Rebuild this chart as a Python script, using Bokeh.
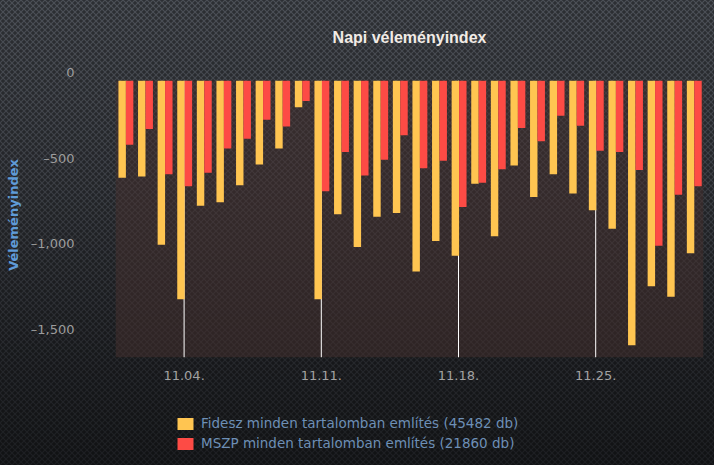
from bokeh.plotting import figure
from bokeh.layouts import column
from bokeh.models import (Range1d, LinearAxis, FixedTicker, Legend, LegendItem,
                          BoxAnnotation, ColumnDataSource)
from bokeh.transform import dodge
from bokeh.embed import file_html
from bokeh.resources import INLINE

# ---- data ----
days = list(range(1, 31))  # November 1..30
fidesz = [-566, -558, -956, -1275, -729, -708, -609, -488, -395, -155,
          -1275, -779, -969, -793, -771, -1113, -934, -1020, -601, -907,
          -494, -678, -545, -657, -756, -863, -1543, -1198, -1260, -1006]
mszp = [-374, -281, -545, -615, -537, -395, -339, -227, -267, -118,
        -644, -415, -552, -461, -318, -510, -467, -737, -595, -516,
        -275, -353, -204, -262, -409, -415, -521, -962, -665, -615]
tick_days = [4, 11, 18, 25]
tick_labels = ["11.04.", "11.11.", "11.18.", "11.25."]
y_ticks = [0, -500, -1000, -1500]
y_tick_labels = ["0", "\u2013500", "\u20131,000", "\u20131,500"]
series_names = ["Fidesz minden tartalomban említés (45482 db)",
                "MSZP minden tartalomban említés (21860 db)"]
colors = ["#ffc551", "#fd4b45"]

Y_MIN = -1614
LABEL_SHIFT = 48  # tick labels sit slightly above their ticks

src = ColumnDataSource(dict(day=days, fidesz=fidesz, mszp=mszp,
                            zero=[0] * len(days)))

p = figure(width=714, height=395, output_backend="svg", toolbar_location=None,
           x_range=Range1d(0.5, 30.5), y_range=Range1d(Y_MIN, LABEL_SHIFT),
           y_axis_location=None,
           min_border_left=115, min_border_right=11,
           min_border_top=71, min_border_bottom=38,
           title="Napi véleményindex")

p.border_fill_alpha = 0
p.background_fill_alpha = 0
p.outline_line_color = None
p.xgrid.visible = False
p.ygrid.visible = False

# title
p.title.text_font = "Liberation Sans"
p.title.text_font_size = "16px"
p.title.text_font_style = "bold"
p.title.text_color = "#f2ece6"
p.title.align = "center"
p.title.offset = -8
p.title.standoff = 53

# plot area fill (from zero down)
p.add_layout(BoxAnnotation(top=0, fill_color="#45302d", fill_alpha=0.5,
                           line_color=None, level="underlay"))

# vertical grid lines at ticks
p.segment(x0=tick_days, x1=tick_days, y0=[0] * len(tick_days),
          y1=[Y_MIN] * len(tick_days), line_color="#ffffff", line_width=1)

# bars
r1 = p.vbar(x=dodge("day", -0.16, range=p.x_range), top="zero", bottom="fidesz",
            width=0.38, source=src, fill_color=colors[0], line_color=None)
r2 = p.vbar(x=dodge("day", 0.22, range=p.x_range), top="zero", bottom="mszp",
            width=0.38, source=src, fill_color=colors[1], line_color=None)

# x axis
xa = p.xaxis[0]
xa.ticker = FixedTicker(ticks=tick_days)
xa.major_label_overrides = dict(zip(tick_days, tick_labels))
xa.axis_line_color = None
xa.major_tick_line_color = None
xa.minor_tick_line_color = None
xa.major_label_text_font = "DejaVu Sans"
xa.major_label_text_font_size = "13px"
xa.major_label_text_color = "#a2a2a2"
xa.major_label_standoff = 7

# y axis (labels on a shifted range)
p.extra_y_ranges = {"lab": Range1d(Y_MIN - LABEL_SHIFT, 0)}
ya = LinearAxis(y_range_name="lab", ticker=FixedTicker(ticks=y_ticks),
                major_label_overrides=dict(zip(y_ticks, y_tick_labels)),
                axis_label="Véleményindex")
ya.axis_line_color = None
ya.major_tick_line_color = None
ya.minor_tick_line_color = None
ya.major_label_text_font = "DejaVu Sans"
ya.major_label_text_font_size = "13px"
ya.major_label_text_color = "#9c9c9c"
ya.major_label_standoff = 35
ya.axis_label_text_font = "DejaVu Sans"
ya.axis_label_text_font_size = "13px"
ya.axis_label_text_font_style = "bold"
ya.axis_label_text_color = "#5f9bd8"
ya.axis_label_standoff = 7
p.add_layout(ya, "left")

# legend strip (separate figure underneath, same series styles;
# its bars have zero height so only the legend swatches show)
q = figure(width=714, height=70, output_backend="svg", toolbar_location=None,
           x_range=p.x_range, y_range=Range1d(0, 1),
           x_axis_location=None, y_axis_location=None, min_border=0)
q.border_fill_alpha = 0
q.background_fill_alpha = 0
q.outline_line_color = None
q.xgrid.visible = False
q.ygrid.visible = False
l1 = q.vbar(x="day", top="zero", bottom="zero", width=0.38, source=src,
            fill_color=colors[0], line_color=None)
l2 = q.vbar(x="day", top="zero", bottom="zero", width=0.38, source=src,
            fill_color=colors[1], line_color=None)

legend = Legend(items=[LegendItem(label=series_names[0], renderers=[l1]),
                       LegendItem(label=series_names[1], renderers=[l2])],
                location=(60, 12))
legend.background_fill_alpha = 0
legend.border_line_alpha = 0
legend.padding = 0
legend.margin = 0
legend.spacing = 0
legend.glyph_width = 20
legend.glyph_height = 15
legend.label_height = 20
legend.label_standoff = 6
legend.label_text_font = "DejaVu Sans"
legend.label_text_font_size = "13.5px"
legend.label_text_color = "#6d8fb6"
q.add_layout(legend)

layout = column(p, q, spacing=0)
layout.styles = {
    "background":
        "radial-gradient(circle, rgba(0,0,0,0.4) 0px, rgba(0,0,0,0.4) 1.4px, transparent 2px) 0px 0px / 6px 6px,"
        "radial-gradient(circle, rgba(0,0,0,0.4) 0px, rgba(0,0,0,0.4) 1.4px, transparent 2px) 3px 3px / 6px 6px,"
        "linear-gradient(to bottom, #4b4f56 0%, #3a3d43 40%, #24262a 80%, #1c1e21 100%)"
}

open("out.html", "w").write(file_html(layout, INLINE))
